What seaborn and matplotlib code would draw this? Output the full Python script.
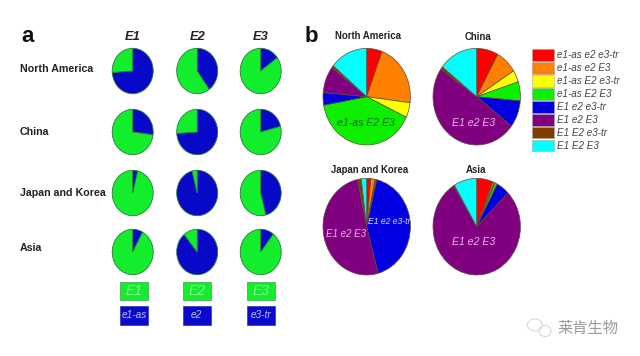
import matplotlib
matplotlib.use("Agg")
import matplotlib.pyplot as plt
from matplotlib.patches import Patch, Rectangle, Ellipse
import seaborn as sns

# ---- data ----
regions = ["North America", "China", "Japan and Korea", "Asia"]
genes = ["E1", "E2", "E3"]
dominant = ["E1", "E2", "E3"]
recessive = ["e1-as", "e2", "e3-tr"]

# share of the recessive allele (blue) per region
e1_recessive = [74, 27, 4, 8]
e2_recessive = [40, 74, 96, 89]
e3_recessive = [15, 21, 46, 10.5]

haplotypes = ["e1-as e2 e3-tr", "e1-as e2 E3", "e1-as E2 e3-tr", "e1-as E2 E3",
              "E1 e2 e3-tr", "E1 e2 E3", "E1 E2 e3-tr", "E1 E2 E3"]
north_america = [5.7, 21.3, 5, 40.2, 4.2, 8.9, 0.8, 13.9]
china = [8, 8, 4, 6.4, 9, 49.2, 1, 14.4]
japan_korea = [1.5, 1.6, 0.2, 0.4, 42.1, 50.8, 1.4, 2]
asia = [6, 0.6, 0.3, 0.9, 4.9, 78.5, 0.3, 8.5]

# ---- style ----
sns.set_theme(style="white")
plt.rcParams["font.family"] = ["Liberation Sans", "Noto Sans CJK SC", "DejaVu Sans"]
palette = sns.color_palette(["#FF0000", "#FF8000", "#FFFF00", "#0CF000",
                             "#0000E0", "#800080", "#7F3F00", "#00FFFF"])
GREEN = "#12EE2C"
BLUE = "#0808C8"
W, H = 640, 356

fig = plt.figure(figsize=(W / 100, H / 100), dpi=100, facecolor="white")
bg = fig.add_axes([0, 0, 1, 1])
bg.set_xlim(0, W)
bg.set_ylim(H, 0)
bg.axis("off")


def pie_at(cx, cy, rx, ry, values, colors, edge, lw):
    ax = fig.add_axes([(cx - rx) / W, 1 - (cy + ry) / H, 2 * rx / W, 2 * ry / H])
    ax.pie(values, colors=colors, startangle=90, counterclock=False,
           wedgeprops=dict(edgecolor=edge, linewidth=lw))
    ax.set_aspect("auto")
    ax.set_xlim(-1, 1)
    ax.set_ylim(-1, 1)
    for p in ax.patches:
        p.set_clip_on(False)
    return ax


# ---- panel a ----
col_x = [132.7, 197.2, 260.7]
row_y = [71, 132, 193, 252]
row_label_y = [69.5, 132, 193.5, 248]
for gene, x in zip(genes, col_x):
    bg.text(x, 37, gene, fontsize=9.3, fontweight="bold", fontstyle="italic",
            ha="center", va="center", color="#222222")
for name, y_lab in zip(regions, row_label_y):
    bg.text(20, y_lab, name, fontsize=7.7, fontweight="bold", ha="left",
            va="center", color="#222222")
for shares, x in zip([e1_recessive, e2_recessive, e3_recessive], col_x):
    for share, y in zip(shares, row_y):
        pie_at(x, y, 20.5, 22.7, [share, 100 - share], [BLUE, GREEN], "#2A7A3A", 0.6)

box_x = [120, 182.7, 246.7]
for x, up, low in zip(box_x, dominant, recessive):
    bg.add_patch(Rectangle((x, 281.7), 28, 18.3, fc=GREEN, ec="#3CA050", lw=0.5))
    bg.text(x + 14, 291, up, color="#8CF09A", fontsize=10, fontstyle="italic",
            ha="center", va="center")
    bg.add_patch(Rectangle((x, 306), 28, 19, fc="#0A0ACC", ec="#3030C0", lw=0.5))
    bg.text(x + 14, 315.5, low, color="#C0C0F0", fontsize=7.2, fontstyle="italic",
            ha="center", va="center")

# ---- panel b ----
b_x = [366.7, 476.7]
b_y = [96.7, 226.7]
for vals, (x, y) in zip([north_america, china, japan_korea, asia],
                        [(b_x[0], b_y[0]), (b_x[1], b_y[0]),
                         (b_x[0], b_y[1]), (b_x[1], b_y[1])]):
    pie_at(x, y, 43.7, 48.3, vals, palette, "#5A4A3A", 0.5)

bg.text(21, 37, "a", fontsize=16, fontweight="bold", ha="left", va="center", color="#111111")
bg.text(305, 37, "b", fontsize=16, fontweight="bold", ha="left", va="center", color="#111111")

title_pos = [(368, 36), (478, 37), (370, 170), (476, 170)]
for name, (x, y) in zip(regions, title_pos):
    bg.text(x, y, name, fontsize=6.9, fontweight="bold", ha="center", va="center",
            color="#222222")

overlay = fig.add_axes([0, 0, 1, 1], facecolor="none")
overlay.set_xlim(0, W)
overlay.set_ylim(H, 0)
overlay.axis("off")
overlay.text(366, 123, haplotypes[3], fontsize=7.6, fontstyle="italic", color="#0A6A1E",
             ha="center", va="center")
overlay.text(474, 123, haplotypes[5], fontsize=7.6, fontstyle="italic", color="#F0B0F0",
             ha="center", va="center")
overlay.text(346, 234, haplotypes[5], fontsize=7.0, fontstyle="italic", color="#F0B0F0",
             ha="center", va="center")
overlay.text(389, 221, haplotypes[4], fontsize=6.2, fontstyle="italic", color="#D8D8FF",
             ha="center", va="center")
overlay.text(474, 242, haplotypes[5], fontsize=7.6, fontstyle="italic", color="#F0B0F0",
             ha="center", va="center")

# ---- legend ----
handles = [Patch(facecolor=c, edgecolor="#B0A0A0", linewidth=0.4) for c in palette]
overlay.legend(handles, haplotypes, loc="upper left", bbox_to_anchor=(532 / W, 1 - 49 / H),
               bbox_transform=fig.transFigure, frameon=False,
               handlelength=2.2, handleheight=1.42, handletextpad=0.3,
               labelspacing=0.15, borderpad=0, borderaxespad=0,
               prop=dict(family="Liberation Sans", style="italic", size=7.1),
               labelcolor="#444444")

# ---- watermark ----
overlay.add_patch(Ellipse((535, 325), 15, 12, fc="none", ec="#D4D4D4", lw=0.7))
overlay.add_patch(Ellipse((545, 331), 12, 11, fc="none", ec="#D4D4D4", lw=0.7))
overlay.text(557, 328, "莱肯生物", fontsize=11, color="#999999", ha="left", va="center",
             family=["Noto Sans CJK SC", "DejaVu Sans"])

fig.savefig("out.png", dpi=100, facecolor="white")
